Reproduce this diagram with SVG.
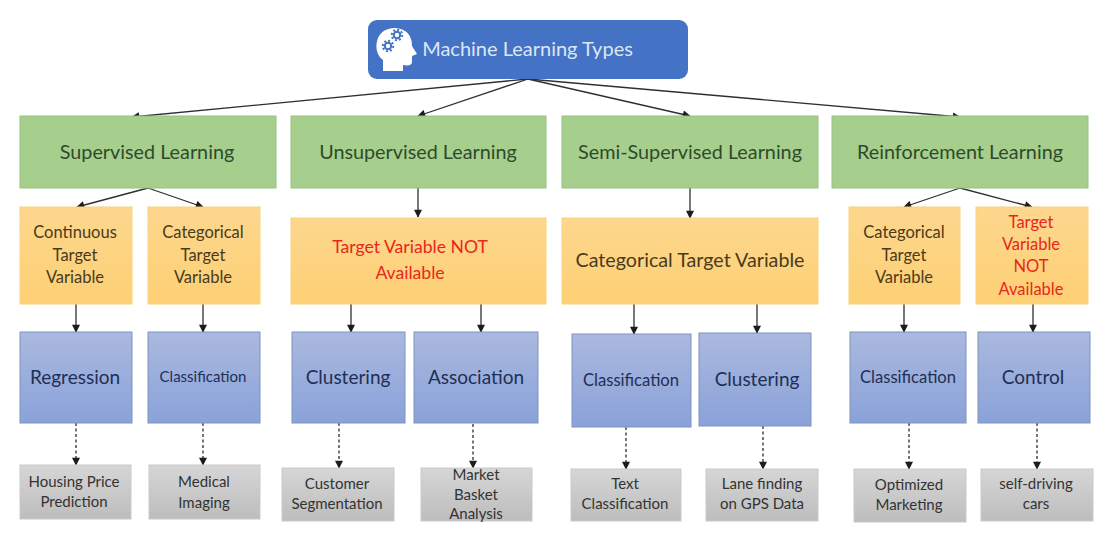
<svg xmlns="http://www.w3.org/2000/svg" width="1112" height="544" viewBox="0 0 1112 544">
<style>
text{font-family:Lato,"Open Sans","Liberation Sans",sans-serif;text-anchor:middle}
.g{fill:#a6cf8e;stroke:#97c17e;stroke-width:1}
.o{fill:url(#og);stroke:#f8d47c;stroke-width:1}
.b{fill:url(#bg);stroke:#7f93bd;stroke-width:1}
.y{fill:url(#yg);stroke:#c9c9c9;stroke-width:1}
.tg{fill:#2f4a2a;font-size:19.8px}
.to{fill:#4a3a1c;font-size:16.5px}
.tw{fill:#4a3a1c;font-size:19.7px}
.tr{fill:#e8261c;font-size:16.5px}
.trw{fill:#e8261c;font-size:17.6px}
.tb{fill:#1f2f55;font-size:19px}
.ts{fill:#1f2f55;font-size:15px}
.tm{fill:#1f2f55;font-size:16.6px}
.ty{fill:#333;font-size:15px}
.c{fill:none;stroke:#2f2f2f;stroke-width:1.3}
.d{fill:none;stroke:#2f2f2f;stroke-width:1.3;stroke-dasharray:3 2.5}
</style>
<defs>
<linearGradient id="og" x1="0" y1="0" x2="0" y2="1"><stop offset="0" stop-color="#fdd78e"/><stop offset="1" stop-color="#fdd074"/></linearGradient>
<linearGradient id="bg" x1="0" y1="0" x2="0" y2="1"><stop offset="0" stop-color="#aab9df"/><stop offset="1" stop-color="#8aa2d9"/></linearGradient>
<linearGradient id="yg" x1="0" y1="0" x2="0" y2="1"><stop offset="0" stop-color="#d6d6d6"/><stop offset="1" stop-color="#bdbdbd"/></linearGradient>
<marker id="a" viewBox="0 0 10 10" refX="9" refY="5" markerWidth="9" markerHeight="8" markerUnits="userSpaceOnUse" orient="auto"><path d="M0 0L10 5L0 10z" fill="#1c1c1c"/></marker>
</defs>
<rect width="1112" height="544" fill="#fff"/>
<g id="connectors">
<path class="c" marker-end="url(#a)" d="M528 79L132 117"/>
<path class="c" marker-end="url(#a)" d="M528 79L418 116"/>
<path class="c" marker-end="url(#a)" d="M528 79L690 116"/>
<path class="c" marker-end="url(#a)" d="M528 79L960 117"/>
<path class="c" marker-end="url(#a)" d="M148 188L77 207"/>
<path class="c" marker-end="url(#a)" d="M148 188L203 207"/>
<path class="c" marker-end="url(#a)" d="M418 188V217"/>
<path class="c" marker-end="url(#a)" d="M690 188V218"/>
<path class="c" marker-end="url(#a)" d="M960 188L904 207"/>
<path class="c" marker-end="url(#a)" d="M960 188L1032 207"/>
<path class="c" marker-end="url(#a)" d="M76 304V332"/>
<path class="c" marker-end="url(#a)" d="M203 304V332"/>
<path class="c" marker-end="url(#a)" d="M351 304V332"/>
<path class="c" marker-end="url(#a)" d="M481 304V332"/>
<path class="c" marker-end="url(#a)" d="M634 304V334"/>
<path class="c" marker-end="url(#a)" d="M757 304V333"/>
<path class="c" marker-end="url(#a)" d="M904 304V332"/>
<path class="c" marker-end="url(#a)" d="M1033 304V332"/>
<path class="d" marker-end="url(#a)" d="M76 423V465"/>
<path class="d" marker-end="url(#a)" d="M203 423V465"/>
<path class="d" marker-end="url(#a)" d="M339 423V468"/>
<path class="d" marker-end="url(#a)" d="M473 424V468"/>
<path class="d" marker-end="url(#a)" d="M626 427V469"/>
<path class="d" marker-end="url(#a)" d="M763 426V469"/>
<path class="d" marker-end="url(#a)" d="M909 423V469"/>
<path class="d" marker-end="url(#a)" d="M1037 423V469"/>
</g>
<g id="root">
<rect x="368" y="20" width="320" height="59" rx="9" fill="#4472c4"/>
<path d="M383 71V60C376 55 375 45 378 38C382 28 396 25 405 31C411 35 412 41 412 46L417 54L412 56V62C412 65 409 66 403 65V71Z" fill="#fff"/>
<circle cx="397" cy="35" r="3.2" fill="none" stroke="#4472c4" stroke-width="2"/>
<circle cx="397" cy="35" r="5.2" fill="none" stroke="#4472c4" stroke-width="2" stroke-dasharray="2 2"/>
<circle cx="388" cy="46" r="3.2" fill="none" stroke="#4472c4" stroke-width="2"/>
<circle cx="388" cy="46" r="5.2" fill="none" stroke="#4472c4" stroke-width="2" stroke-dasharray="2 2"/>
<text x="527.5" y="56" font-size="20" fill="#dce6f5">Machine Learning Types</text>
</g>
<g id="supervised"><rect class="g" x="20" y="116" width="256" height="72"/><text class="tg" x="147" y="159">Supervised Learning</text></g>
<g id="unsupervised"><rect class="g" x="291" y="116" width="255" height="72"/><text class="tg" x="418" y="159">Unsupervised Learning</text></g>
<g id="semi"><rect class="g" x="562" y="116" width="256" height="72"/><text class="tg" x="690" y="159">Semi-Supervised Learning</text></g>
<g id="reinforcement"><rect class="g" x="832" y="116" width="256" height="72"/><text class="tg" x="960" y="159">Reinforcement Learning</text></g>
<g id="continuous"><rect class="o" x="20" y="207" width="112" height="97"/><text class="to" x="75" y="238">Continuous</text><text class="to" x="75" y="261">Target</text><text class="to" x="75" y="283">Variable</text></g>
<g id="categorical1"><rect class="o" x="148" y="207" width="112" height="97"/><text class="to" x="203" y="238">Categorical</text><text class="to" x="203" y="261">Target</text><text class="to" x="203" y="283">Variable</text></g>
<g id="notavail1"><rect class="o" x="291" y="218" width="255" height="86"/><text class="trw" x="410" y="253">Target Variable NOT</text><text class="trw" x="410" y="279">Available</text></g>
<g id="categorical2"><rect class="o" x="562" y="218" width="256" height="86"/><text class="tw" x="690" y="267">Categorical Target Variable</text></g>
<g id="categorical3"><rect class="o" x="849" y="207" width="111" height="97"/><text class="to" x="904" y="238">Categorical</text><text class="to" x="904" y="261">Target</text><text class="to" x="904" y="283">Variable</text></g>
<g id="notavail2"><rect class="o" x="976" y="207" width="112" height="97"/><text class="tr" x="1031" y="228">Target</text><text class="tr" x="1031" y="250">Variable</text><text class="tr" x="1031" y="272">NOT</text><text class="tr" x="1031" y="295">Available</text></g>
<g id="regression"><rect class="b" x="20" y="332" width="112" height="91"/><text class="tb" x="75" y="384">Regression</text></g>
<g id="classification1"><rect class="b" x="148" y="332" width="112" height="91"/><text class="ts" x="203" y="382">Classification</text></g>
<g id="clustering1"><rect class="b" x="292" y="332" width="113" height="91"/><text class="tb" x="348" y="384">Clustering</text></g>
<g id="association"><rect class="b" x="414" y="332" width="124" height="91"/><text class="tb" x="476" y="384">Association</text></g>
<g id="classification2"><rect class="b" x="572" y="334" width="119" height="93"/><text class="tm" x="631" y="386">Classification</text></g>
<g id="clustering2"><rect class="b" x="699" y="333" width="112" height="93"/><text class="tb" x="757" y="386">Clustering</text></g>
<g id="classification3"><rect class="b" x="850" y="332" width="116" height="91"/><text class="tm" x="908" y="383">Classification</text></g>
<g id="control"><rect class="b" x="978" y="332" width="112" height="91"/><text class="tb" x="1033" y="384">Control</text></g>
<g id="housing"><rect class="y" x="20" y="465" width="111" height="54"/><text class="ty" x="74" y="487">Housing Price</text><text class="ty" x="74" y="507">Prediction</text></g>
<g id="medical"><rect class="y" x="149" y="465" width="111" height="54"/><text class="ty" x="204" y="487">Medical</text><text class="ty" x="204" y="508">Imaging</text></g>
<g id="customer"><rect class="y" x="282" y="468" width="112" height="53"/><text class="ty" x="337" y="489">Customer</text><text class="ty" x="337" y="509">Segmentation</text></g>
<g id="market"><rect class="y" x="421" y="468" width="111" height="53"/><text class="ty" x="476" y="480">Market</text><text class="ty" x="476" y="500">Basket</text><text class="ty" x="476" y="519">Analysis</text></g>
<g id="text"><rect class="y" x="571" y="469" width="110" height="52"/><text class="ty" x="625" y="489">Text</text><text class="ty" x="625" y="509">Classification</text></g>
<g id="lane"><rect class="y" x="706" y="469" width="112" height="52"/><text class="ty" x="762" y="489">Lane finding</text><text class="ty" x="762" y="509">on GPS Data</text></g>
<g id="marketing"><rect class="y" x="854" y="469" width="112" height="53"/><text class="ty" x="909" y="490">Optimized</text><text class="ty" x="909" y="510">Marketing</text></g>
<g id="cars"><rect class="y" x="981" y="469" width="112" height="52"/><text class="ty" x="1036" y="489">self-driving</text><text class="ty" x="1036" y="509">cars</text></g>
</svg>
